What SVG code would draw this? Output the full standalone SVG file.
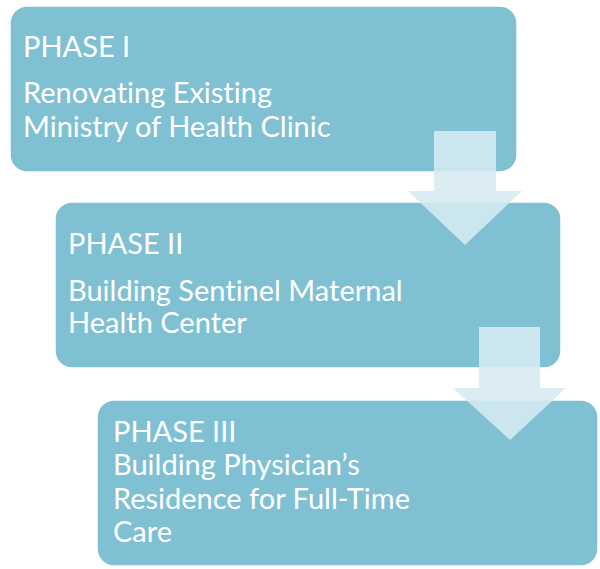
<svg xmlns="http://www.w3.org/2000/svg" width="600" height="569" viewBox="0 0 600 569">
<style>
.box{fill:#7FC1D3;stroke:#FFFFFF;stroke-width:1.5}
.arrow{fill:#D6EAF1;fill-opacity:0.88}
text{font-family:"Lato","Open Sans","DejaVu Sans",sans-serif;fill:#FFFFFF;font-size:29px;font-variant-ligatures:none;font-feature-settings:"liga" 0}
</style>
<rect width="600" height="569" fill="#FFFFFF"/>
<g id="phase1">
<rect class="box" x="10" y="6" width="507" height="166" rx="17"/>
<text x="23" y="57">PHASE I</text>
<text x="23" y="103">Renovating Existing</text>
<text x="23" y="137">Ministry of Health Clinic</text>
</g>
<g id="phase2">
<rect class="box" x="55" y="202" width="506" height="166" rx="17"/>
<text x="68" y="254">PHASE II</text>
<text x="68" y="301">Building Sentinel Maternal</text>
<text x="68" y="333">Health Center</text>
</g>
<g id="phase3">
<rect class="box" x="97" y="400" width="501" height="166" rx="17"/>
<text x="113" y="442">PHASE III</text>
<text x="113" y="475">Building Physician’s</text>
<text x="113" y="509">Residence for Full-Time</text>
<text x="113" y="542">Care</text>
</g>
<g id="connectors">
<polygon class="arrow" points="434,131 496,131 496,191 522,191 465,245 408,191 434,191"/>
<polygon class="arrow" points="479,327 540,327 540,388 566,388 510,440 453,388 479,388"/>
</g>
</svg>
